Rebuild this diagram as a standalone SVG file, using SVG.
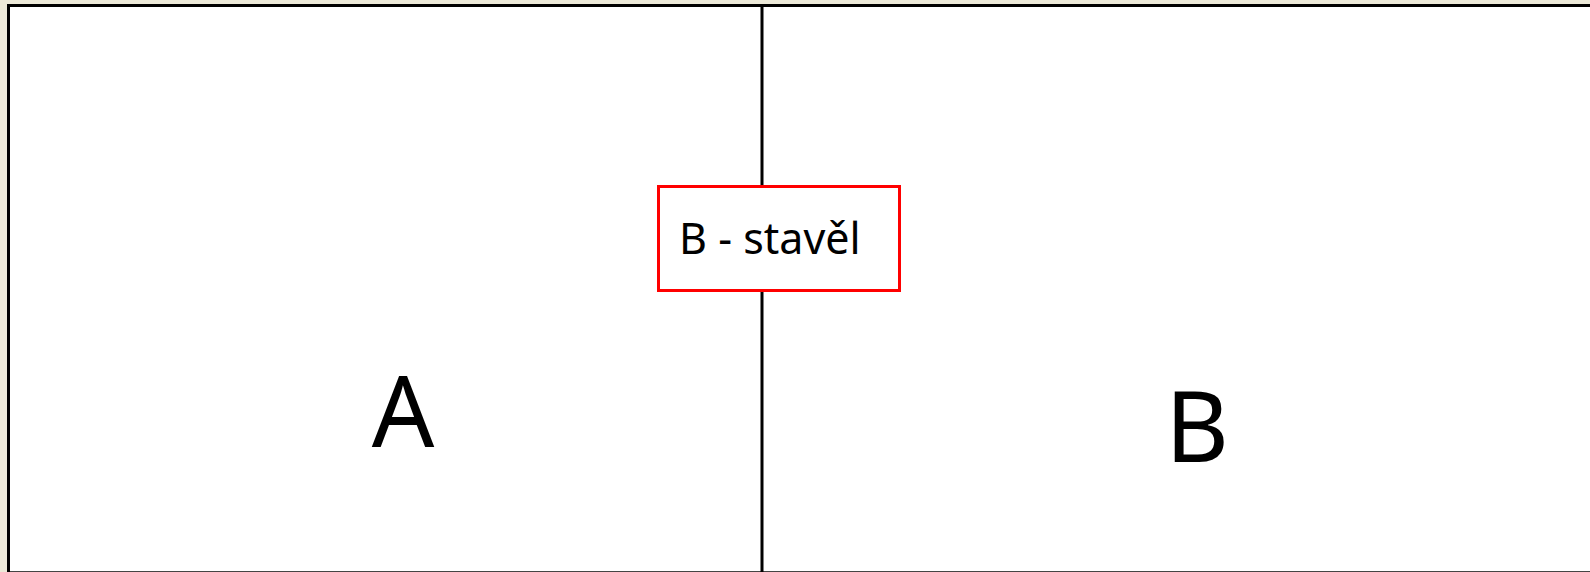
<svg xmlns="http://www.w3.org/2000/svg" width="1590" height="572" viewBox="0 0 1590 572">
<style>
.big{font-family:"Noto Sans","Open Sans","DejaVu Sans",sans-serif;font-size:98px;fill:#000;text-anchor:middle}
.lbl{font-family:"Noto Sans","Open Sans","DejaVu Sans",sans-serif;font-size:43px;fill:#000}
.line{stroke:#000;stroke-width:3;fill:none}
</style>
<rect x="0" y="0" width="1590" height="572" fill="#ece9d8"/>
<rect x="8.5" y="5.5" width="1600" height="600" fill="#fff"/>
<g id="frame">
<line class="line" x1="8.5" y1="5.5" x2="1590" y2="5.5"/>
<line class="line" x1="8.5" y1="4" x2="8.5" y2="572"/>
<line x1="10" y1="571.5" x2="1590" y2="571.5" stroke="#444" stroke-width="1"/>
</g>
<g id="connectors">
<line class="line" x1="762" y1="7" x2="762" y2="572"/>
</g>
<g id="nodeA"><text class="big" x="403" y="446.5">A</text></g>
<g id="nodeB"><text class="big" x="1197" y="461.5">B</text></g>
<g id="label">
<rect x="658.5" y="186.5" width="241" height="104" fill="#fff" stroke="#f00" stroke-width="3"/>
<text class="lbl" x="679" y="254">B - stavěl</text>
</g>
</svg>
